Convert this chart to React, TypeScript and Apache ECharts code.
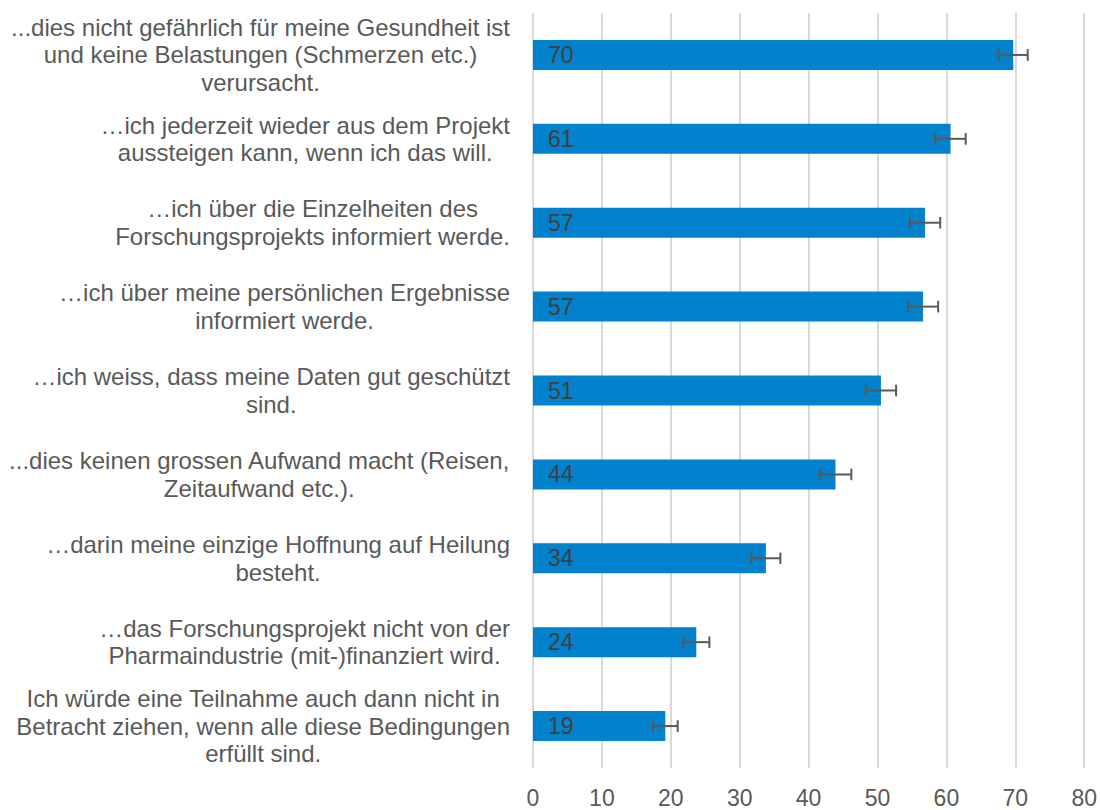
import React, { useEffect, useRef } from "react";
import * as echarts from "echarts";

const categories: string[] = [
  "...dies nicht gefährlich für meine Gesundheit ist\nund keine Belastungen (Schmerzen etc.)\nverursacht.",
  "…ich jederzeit wieder aus dem Projekt\naussteigen kann, wenn ich das will.",
  "…ich über die Einzelheiten des\nForschungsprojekts informiert werde.",
  "…ich über meine persönlichen Ergebnisse\ninformiert werde.",
  "…ich weiss, dass meine Daten gut geschützt\nsind.",
  "...dies keinen grossen Aufwand macht (Reisen,\nZeitaufwand etc.).",
  "…darin meine einzige Hoffnung auf Heilung\nbesteht.",
  "…das Forschungsprojekt nicht von der\nPharmaindustrie (mit-)finanziert wird.",
  "Ich würde eine Teilnahme auch dann nicht in\nBetracht ziehen, wenn alle diese Bedingungen\nerfüllt sind.",
];

const values: number[] = [69.7, 60.6, 56.9, 56.6, 50.5, 43.9, 33.8, 23.7, 19.2];
const errors: number[] = [2.1, 2.2, 2.2, 2.2, 2.2, 2.3, 2.1, 1.9, 1.8];
const xTicks: number[] = [0, 10, 20, 30, 40, 50, 60, 70, 80];

const FONT = "'Liberation Sans', Arial, Helvetica, sans-serif";

export default function App() {
  const ref = useRef<HTMLDivElement>(null);

  useEffect(() => {
    if (!ref.current) return;
    const chart = echarts.init(ref.current, undefined, { renderer: "svg" });
    const errData = values.map((v, i) => [i, v - errors[i], v + errors[i]]);
    const option: any = {
      animation: false,
      backgroundColor: "#ffffff",
      textStyle: { fontFamily: FONT },
      grid: { left: 533, right: 15, top: 13, bottom: 42, containLabel: false },
      xAxis: {
        type: "value",
        min: xTicks[0],
        max: xTicks[xTicks.length - 1],
        interval: 10,
        axisLine: { show: false },
        axisTick: { show: false },
        splitLine: { show: true, lineStyle: { color: "#d9d9d9", width: 2 } },
        axisLabel: {
          color: "#595959",
          fontSize: 23,
          fontFamily: FONT,
          margin: 18,
        },
      },
      yAxis: {
        type: "category",
        data: categories,
        inverse: true,
        axisLine: { show: false },
        axisTick: { show: false },
        splitLine: { show: false },
        axisLabel: {
          align: "right",
          margin: 23,
          formatter: (v: string) => "{c|" + v + "}",
          rich: {
            c: {
              align: "center",
              fontSize: 24,
              lineHeight: 27.5,
              color: "#595959",
              fontFamily: FONT,
            },
          },
        },
      },
      series: [
        {
          type: "bar",
          data: values,
          barWidth: 30,
          itemStyle: { color: "#0281cc" },
          label: {
            show: true,
            position: "insideLeft",
            distance: 15,
            formatter: (p: any) => String(Math.round(p.value)),
            color: "#404040",
            fontSize: 23,
            fontFamily: FONT,
          },
          silent: true,
        },
        {
          type: "custom",
          data: errData,
          encode: { x: [1, 2], y: 0 },
          silent: true,
          z: 5,
          renderItem: (params: any, api: any) => {
            const cat = api.value(0);
            const p1 = api.coord([api.value(1), cat]);
            const p2 = api.coord([api.value(2), cat]);
            const h = 5.8;
            const st = { stroke: "#595959", lineWidth: 2 };
            return {
              type: "group",
              children: [
                { type: "line", shape: { x1: p1[0], y1: p1[1], x2: p2[0], y2: p2[1] }, style: st },
                { type: "line", shape: { x1: p1[0], y1: p1[1] - h, x2: p1[0], y2: p1[1] + h }, style: st },
                { type: "line", shape: { x1: p2[0], y1: p2[1] - h, x2: p2[0], y2: p2[1] + h }, style: st },
              ],
            };
          },
        },
      ],
    };
    chart.setOption(option);
    return () => chart.dispose();
  }, []);

  return (
    <div
      ref={ref}
      style={{ position: "absolute", left: 0, top: 0, width: 1100, height: 810 }}
    />
  );
}
